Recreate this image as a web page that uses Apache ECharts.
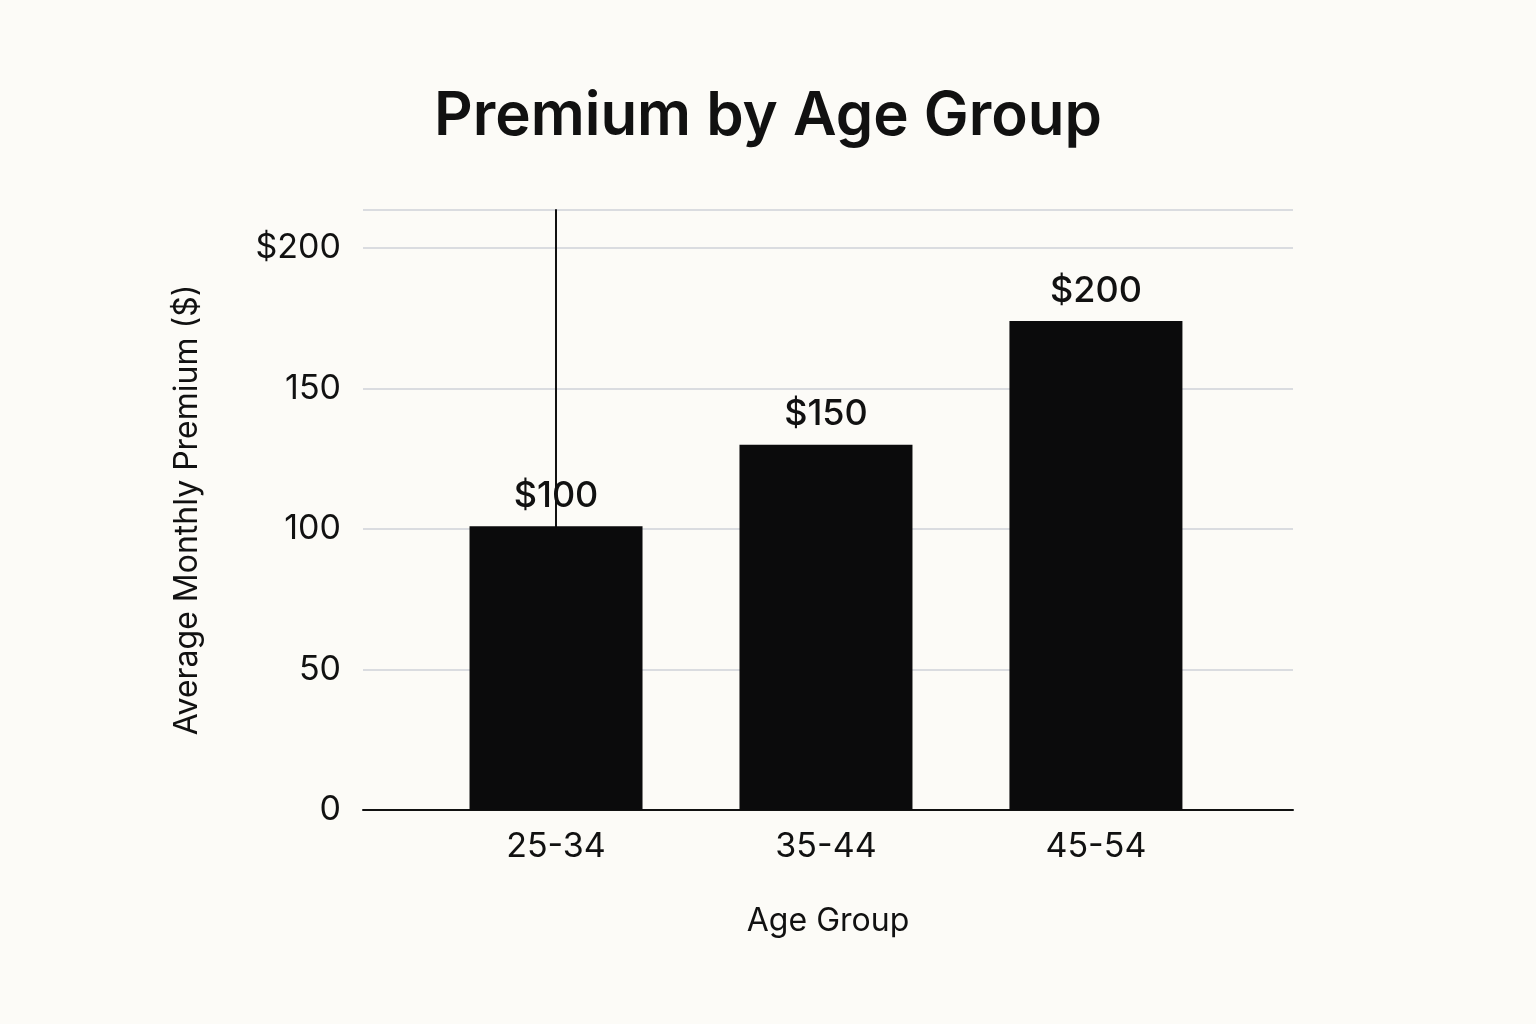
<!DOCTYPE html>
<html><head><meta charset="utf-8">
<script src="https://cdn.jsdelivr.net/npm/echarts@6/dist/echarts.min.js"></script>
<style>html,body{margin:0;background:#fcfbf7}#c{width:1536px;height:1024px}</style>
</head><body><div id="c"></div>
<script>
const categories = ["25-34", "35-44", "45-54"];
const values = [101, 130, 174];
const barLabels = ["$100", "$150", "$200"];
const yTicks = [0, 50, 100, 150, 200];

const chart = echarts.init(document.getElementById('c'));
const font = "Inter, 'Noto Sans', sans-serif";
chart.setOption({
  backgroundColor: '#fcfbf7',
  title: { text: 'Premium by Age Group', left: 'center', top: 82,
    textStyle: { fontFamily: font, fontSize: 60, fontWeight: 600, color: '#111' } },
  grid: { left: 363, right: 243, top: 210, bottom: 214 },
  xAxis: {
    type: 'value', min: -0.715, max: 2.73,
    name: 'Age Group', nameLocation: 'middle', nameGap: 95,
    nameTextStyle: { fontFamily: font, fontSize: 32, color: '#111' },
    axisLine: { show: true, onZero: false, lineStyle: { color: '#111', width: 2 } },
    axisTick: { show: false },
    splitLine: { show: false },
    axisLabel: { customValues: [0, 1, 2], formatter: v => categories[Math.round(v)],
      fontFamily: font, fontSize: 34, color: '#111', margin: 20 }
  },
  yAxis: {
    type: 'value', min: 0, max: 213.5, interval: 50,
    name: 'Average Monthly Premium ($)', nameLocation: 'middle', nameGap: 160,
    nameTextStyle: { fontFamily: font, fontSize: 32, color: '#111' },
    axisLine: { show: true, lineStyle: { color: '#111', width: 2 } },
    axisTick: { show: false },
    splitLine: { show: true, lineStyle: { color: '#cfd2d8', width: 1.5 } },
    axisLabel: { customValues: yTicks, formatter: v => v === 200 ? '$200' : String(v),
      fontFamily: font, fontSize: 34, color: '#111', margin: 22 }
  },
  series: [{
    type: 'bar', barWidth: 173,
    data: values.map((v, i) => [i, v]),
    itemStyle: { color: '#0b0b0c' },
    label: { show: true, position: 'top', distance: 12,
      formatter: p => barLabels[p.dataIndex],
      fontFamily: font, fontSize: 36, fontWeight: 500, color: '#111' }
  }]
});
</script></body></html>
